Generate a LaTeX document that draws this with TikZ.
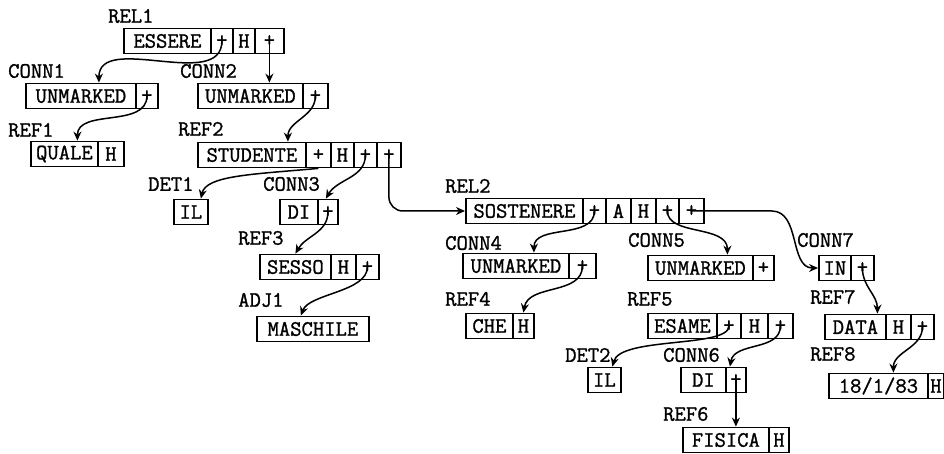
\documentclass[tikz,border=0pt]{standalone}
\usepackage{fontspec}
\newfontfamily\typew[FakeBold=1.2]{Latin Modern Mono}
\usetikzlibrary{arrows.meta}
\begin{document}
\begin{tikzpicture}[x=1pt,y=1pt,
  cell/.style={draw, line width=1.8pt, minimum height=25pt, inner sep=0pt, anchor=west,
    font=\fontsize{22}{24}\selectfont\typew},
  lbl/.style={anchor=west, inner sep=0pt, font=\fontsize{22}{24}\selectfont\typew},
  conn/.style={line width=1.5pt, -{Stealth[length=9pt,width=8pt]}}]
\useasboundingbox (0,0) rectangle (944,-454);

% ---------- REL1
\node[lbl] (lrel1) at (108,-16) {REL1};
\node[cell, minimum width=87pt] (rel1a) at (123,-41) {ESSERE};
\node[cell, minimum width=22pt] (rel1b) at (210,-41) {+};
\node[cell, minimum width=22pt] (rel1c) at (232,-41) {H};
\node[cell, minimum width=29pt] (rel1d) at (254,-41) {+};

% ---------- CONN1 / CONN2
\node[lbl] (lconn1) at (8,-71) {CONN1};
\node[cell, minimum width=110pt] (c1a) at (25,-96) {UNMARKED};
\node[cell, minimum width=22pt] (c1b) at (135,-96) {+};
\node[lbl] (lconn2) at (180,-71) {CONN2};
\node[cell, minimum width=105pt] (c2a) at (197,-96) {UNMARKED};
\node[cell, minimum width=25pt] (c2b) at (302,-96) {+};

% ---------- REF1 / REF2
\node[lbl] (lref1) at (8,-130) {REF1};
\node[cell, minimum width=67pt] (r1a) at (30,-154) {QUALE};
\node[cell, minimum width=26pt] (r1b) at (97,-154) {H};
\node[lbl] (lref2) at (178,-129) {REF2};
\node[cell, minimum width=108pt] (r2a) at (197,-155) {STUDENTE};
\node[cell, minimum width=25pt] (r2b) at (305,-155) {+};
\node[cell, minimum width=23pt] (r2c) at (330,-155) {H};
\node[cell, minimum width=23pt] (r2d) at (353,-155) {+};
\node[cell, minimum width=24pt] (r2e) at (376,-155) {+};

% ---------- DET1 / CONN3
\node[lbl] (ldet1) at (148,-184) {DET1};
\node[cell, minimum width=34pt] (d1) at (173,-212) {IL};
\node[lbl] (lconn3) at (263,-184) {CONN3};
\node[cell, minimum width=38pt] (c3a) at (279,-212) {DI};
\node[cell, minimum width=20pt] (c3b) at (317,-212) {+};

% ---------- REF3 / ADJ1
\node[lbl] (lref3) at (238,-238) {REF3};
\node[cell, minimum width=71pt] (r3a) at (259,-267) {SESSO};
\node[cell, minimum width=25pt] (r3b) at (330,-267) {H};
\node[cell, minimum width=23pt] (r3c) at (355,-267) {+};
\node[lbl] (ladj1) at (238,-300) {ADJ1};
\node[cell, minimum width=112pt] (a1) at (256,-329) {MASCHILE};

% ---------- REL2
\node[lbl] (lrel2) at (445,-186) {REL2};
\node[cell, minimum width=117pt] (s1) at (465,-211) {SOSTENERE};
\node[cell, minimum width=23pt] (s2) at (582,-211) {+};
\node[cell, minimum width=25pt] (s3) at (605,-211) {A};
\node[cell, minimum width=25pt] (s4) at (630,-211) {H};
\node[cell, minimum width=23pt] (s5) at (655,-211) {+};
\node[cell, minimum width=25pt] (s6) at (678,-211) {+};

% ---------- CONN4 / CONN5 / CONN7
\node[lbl] (lconn4) at (445,-243) {CONN4};
\node[cell, minimum width=106pt] (c4a) at (462,-266) {UNMARKED};
\node[cell, minimum width=27pt] (c4b) at (568,-266) {+};
\node[lbl] (lconn5) at (628,-240) {CONN5};
\node[cell, minimum width=105pt] (c5a) at (647,-268) {UNMARKED};
\node[cell, minimum width=21pt] (c5b) at (752,-268) {+};
\node[lbl] (lconn7) at (797,-240) {CONN7};
\node[cell, minimum width=32pt] (c7a) at (818,-268) {IN};
\node[cell, minimum width=23pt] (c7b) at (850,-268) {+};

% ---------- REF4 / REF5 / REF7
\node[lbl] (lref4) at (445,-299) {REF4};
\node[cell, minimum width=47pt] (r4a) at (465,-326) {CHE};
\node[cell, minimum width=21pt] (r4b) at (512,-326) {H};
\node[lbl] (lref5) at (627,-299) {REF5};
\node[cell, minimum width=69pt] (r5a) at (647,-326) {ESAME};
\node[cell, minimum width=24pt] (r5b) at (716,-326) {+};
\node[cell, minimum width=27pt] (r5c) at (740,-326) {H};
\node[cell, minimum width=25pt] (r5d) at (767,-326) {+};
\node[lbl] (lref7) at (810,-297) {REF7};
\node[cell, minimum width=61pt] (r7a) at (824,-327) {DATA};
\node[cell, minimum width=25pt] (r7b) at (885,-327) {H};
\node[cell, minimum width=23pt] (r7c) at (910,-327) {+};

% ---------- DET2 / CONN6 / REF8
\node[lbl] (ldet2) at (565,-355) {DET2};
\node[cell, minimum width=33pt] (d2) at (587,-380) {IL};
\node[lbl] (lconn6) at (663,-355) {CONN6};
\node[cell, minimum width=45pt] (c6a) at (680,-380) {DI};
\node[cell, minimum width=20pt] (c6b) at (725,-380) {+};
\node[lbl] (lref8) at (810,-354) {REF8};
\node[cell, minimum width=99pt] (r8a) at (828,-386) {18/1/83};
\node[cell, minimum width=16pt] (r8b) at (927,-386) {H};

% ---------- REF6
\node[lbl] (lref6) at (663,-414) {REF6};
\node[cell, minimum width=86pt] (r6a) at (682,-440) {FISICA};
\node[cell, minimum width=20pt] (r6b) at (768,-440) {H};

% ---------- connectors
\draw[conn] (rel1b.center) to[out=-90,in=90] ([xshift=18pt]c1a.north);
\draw[conn] (rel1d.center) -- (rel1d.center |- c2a.north);
\draw[conn] (c1b.center) to[out=-90,in=90] ([xshift=13pt]r1a.north);
\draw[conn] (c2b.center) to[out=-90,in=90] ([xshift=36pt]r2a.north);
\draw[conn] (r2b.south) .. controls ([xshift=-67pt,yshift=-6pt]r2b.south)
   and ([xshift=15pt,yshift=23pt]d1.north) .. ([xshift=10pt]d1.north);
\draw[conn] (r2d.center) to[out=-90,in=60] ([xshift=-2pt]c3b.north);
\draw[conn, rounded corners=14pt] (r2e.center) |- (s1.west);
\draw[conn] (c3b.center) to[out=-90,in=60] (r3a.north);
\draw[conn] (r3c.center) .. controls ([yshift=-25pt]r3c.center)
   and ([xshift=-4pt,yshift=22pt]a1.north) .. ([xshift=-12pt]a1.north);
\draw[conn] (s2.center) to[out=-90,in=90] ([xshift=18pt]c4a.north);
\draw[conn] (s5.center) .. controls ([yshift=-25pt]s5.center)
   and ([xshift=27pt,yshift=30pt]c5a.north) .. ([xshift=27pt]c5a.north);
\draw[conn] (s6.center) -- ([xshift=67pt]s6.east) to[out=0,in=180] (c7a.west);
\draw[conn] (c4b.center) to[out=-90,in=80] (r4b.north);
\draw[conn] (c7b.center) to[out=-90,in=90] ([xshift=22pt]r7a.north);
\draw[conn] (r5b.center) .. controls ([yshift=-22pt]r5b.center)
   and ([xshift=16pt,yshift=30pt]d2.north) .. ([xshift=8pt]d2.north);
\draw[conn] (r5d.center) to[out=-90,in=80] ([xshift=-6pt]c6b.north);
\draw[conn] (c6b.center) -- (c6b.center |- r6a.north);
\draw[conn] (r7c.center) to[out=-90,in=90] ([xshift=15pt]r8a.north);
\end{tikzpicture}
\end{document}
